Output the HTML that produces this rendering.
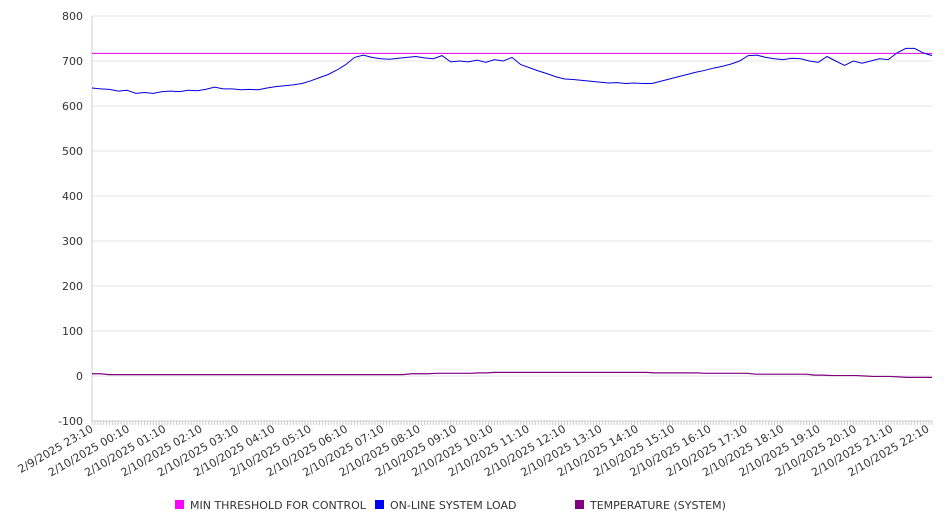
<!DOCTYPE html>
<html><head><meta charset="utf-8"><style>
body{margin:0;background:#fff;font-family:"DejaVu Sans","Liberation Sans",sans-serif;}
svg text{font-family:"DejaVu Sans","Liberation Sans",sans-serif;font-size:11px;fill:#333;}
</style></head><body>
<svg id="chart" width="946" height="526" xmlns="http://www.w3.org/2000/svg">
<g id="grid"></g><g id="axes"></g><g id="series"></g><g id="legend"></g>
</svg>
<script>
const yTicks=[-100,0,100,200,300,400,500,600,700,800];
const xLabels=["2/9/2025 23:10","2/10/2025 00:10","2/10/2025 01:10","2/10/2025 02:10","2/10/2025 03:10","2/10/2025 04:10","2/10/2025 05:10","2/10/2025 06:10","2/10/2025 07:10","2/10/2025 08:10","2/10/2025 09:10","2/10/2025 10:10","2/10/2025 11:10","2/10/2025 12:10","2/10/2025 13:10","2/10/2025 14:10","2/10/2025 15:10","2/10/2025 16:10","2/10/2025 17:10","2/10/2025 18:10","2/10/2025 19:10","2/10/2025 20:10","2/10/2025 21:10","2/10/2025 22:10"];
const threshold=717;
const load=[640,638,637,633,635,628,630,628,632,633,632,635,634,637,642,638,638,636,637,636,640,643,645,647,650,656,663,670,680,692,708,713,708,705,704,706,708,710,707,705,712,698,700,698,702,697,703,700,708,692,685,678,672,665,660,659,657,655,653,651,652,650,651,650,650,655,660,665,670,675,679,684,688,693,700,712,713,708,705,703,706,705,700,697,710,700,690,700,695,700,705,703,718,728,728,718,712];
const temp=[5,5,3,3,3,3,3,3,3,3,3,3,3,3,3,3,3,3,3,3,3,3,3,3,3,3,3,3,3,3,3,3,3,3,3,3,3,3,5,5,5,6,6,6,6,6,7,7,8,8,8,8,8,8,8,8,8,8,8,8,8,8,8,8,8,8,8,7,7,7,7,7,7,6,6,6,6,6,6,4,4,4,4,4,4,4,2,2,1,1,1,1,0,-1,-1,-1,-2,-3,-3,-3,-3];
const X0=92,X1=932,Y0=421,Y1=16,VMIN=-100,VMAX=800;
const ys=v=>Y0-(v-VMIN)/(VMAX-VMIN)*(Y0-Y1);
const xs=(i,n)=>X0+i/(n-1)*(X1-X0);
const NS="http://www.w3.org/2000/svg";
function mk(p,t,a){const e=document.createElementNS(NS,t);for(const k in a)e.setAttribute(k,a[k]);p.appendChild(e);return e;}
const grid=document.getElementById('grid'),axes=document.getElementById('axes'),ser=document.getElementById('series'),leg=document.getElementById('legend');
yTicks.forEach(v=>{
 const l=mk(grid,'line',{x1:X0,x2:X1,y1:ys(v),y2:ys(v),stroke:'#e6e6e6'});
 
 
 const t=mk(axes,'text',{x:83,y:ys(v)+4,'text-anchor':'end'});t.textContent=v;
 
 
});
const ya=mk(axes,'line',{x1:X0,x2:X0,y1:Y1,y2:Y0,stroke:'#ccc'});


const xa=mk(axes,'line',{x1:X0,x2:X1,y1:Y0,y2:Y0,stroke:'#ccc'});


const nMinor=xLabels.length*12;
for(let i=0;i<=nMinor;i++){const x=X0+i*(X1-X0)/nMinor;const tk=mk(axes,'line',{x1:x,x2:x,y1:Y0,y2:Y0+4,stroke:'#ccc'});
 
 }
xLabels.forEach((s,i)=>{const x=X0+i*(X1-4-X0)/(xLabels.length-1)+2;const t=mk(axes,'text',{x:x,y:Y0+10,'text-anchor':'end',transform:`rotate(-30 ${x} ${Y0+10})`});t.textContent=s;
 
 });
const th=mk(ser,'line',{x1:X0,x2:X1,y1:ys(threshold),y2:ys(threshold),stroke:'#e600e6','stroke-width':1});


const lp=mk(ser,'polyline',{points:load.map((v,i)=>xs(i,load.length)+','+ys(v)).join(' '),fill:'none',stroke:'#0000dd','stroke-width':1});


const tp=mk(ser,'polyline',{points:temp.map((v,i)=>xs(i,temp.length)+','+ys(v)).join(' '),fill:'none',stroke:'#800080','stroke-width':1.2});


[["MIN THRESHOLD FOR CONTROL","#ff00ff",175],["ON-LINE SYSTEM LOAD","#0000ff",375],["TEMPERATURE (SYSTEM)","#800080",575]].forEach(([n,c,x])=>{
 const r=mk(leg,'rect',{x:x,y:500,width:9,height:9,fill:c});
 
 
 const t=mk(leg,'text',{x:x+15,y:509});t.textContent=n;
 
 
});
</script>
</body></html>
